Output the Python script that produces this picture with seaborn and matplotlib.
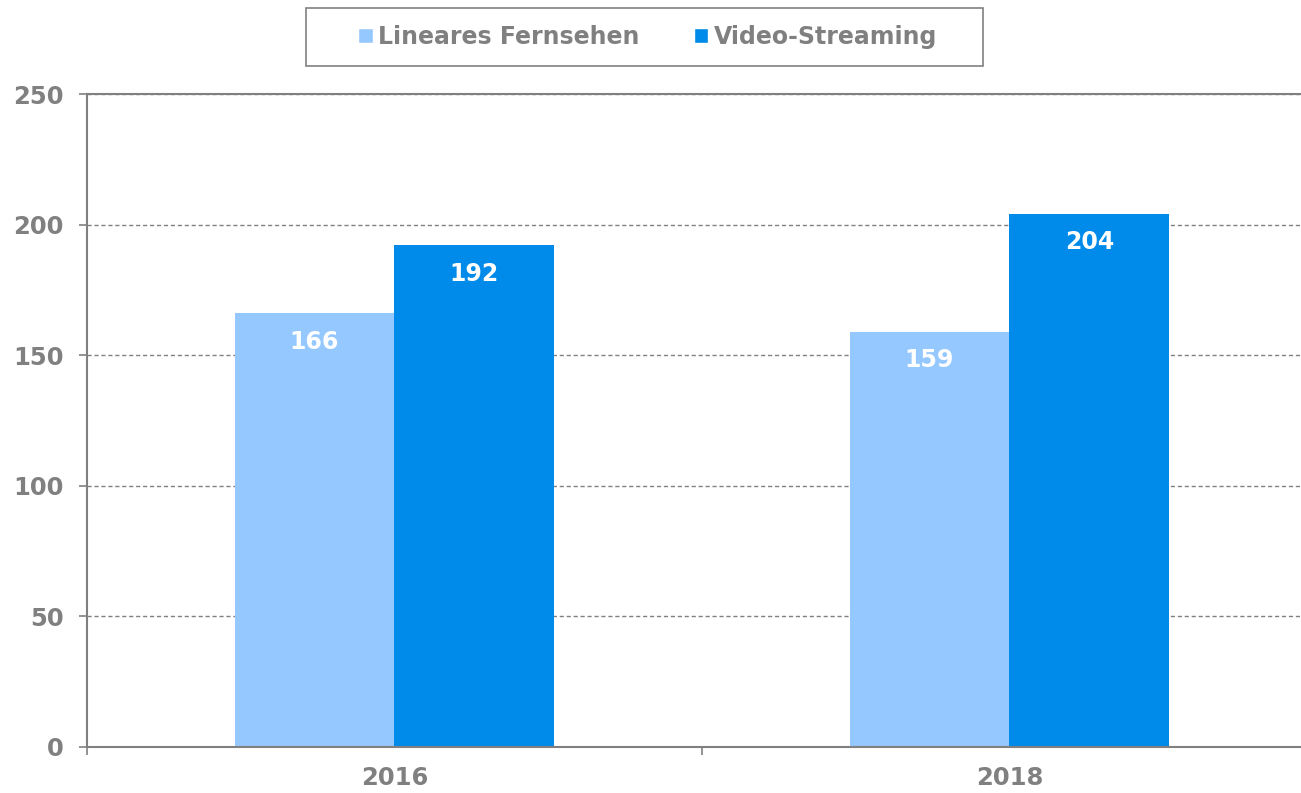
import pandas as pd
import matplotlib.pyplot as plt
import seaborn as sns
from matplotlib.patches import Patch, Rectangle
from matplotlib.ticker import FixedLocator

years = ['2016', '2018']
series = ['Lineares Fernsehen', 'Video-Streaming']
linear_tv = [166, 159]
streaming = [192, 204]
colors = ['#95C8FF', '#008AE9']
grey = '#808080'

df = pd.DataFrame({
    'Jahr': years * 2,
    'Serie': [series[0]] * 2 + [series[1]] * 2,
    'Wert': linear_tv + streaming,
})

sns.set_style('white')
plt.rcParams['font.family'] = ['DejaVu Sans']

W, H = 1301, 793
fig = plt.figure(figsize=(W / 100, H / 100), dpi=100)
ax = fig.add_axes([87 / W, 1 - 747 / H, 1 - 87 / W, (747 - 94) / H])

sns.barplot(data=df, x='Jahr', y='Wert', hue='Serie', palette=colors,
            width=0.52, gap=0, saturation=1, linewidth=0, ax=ax,
            legend=False)

for c in ax.containers:
    ax.bar_label(c, padding=-29, color='white', fontsize=17,
                 fontweight='bold')

ax.set_ylim(0, 250)
ax.set_xlim(-0.5, 1.474)
ax.set_yticks([0, 50, 100, 150, 200, 250])
ax.yaxis.grid(True, linestyle=(0, (3, 2)), color=grey, linewidth=1)
ax.set_axisbelow(True)
ax.set_xlabel('')
ax.set_ylabel('')

for s in ['left', 'bottom', 'top']:
    ax.spines[s].set_color(grey)
    ax.spines[s].set_linewidth(1.5)
ax.spines['right'].set_visible(False)

ax.tick_params(axis='y', which='major', length=6, width=1.2, color=grey,
               labelcolor=grey, labelsize=17.5, pad=11, left=True)
ax.tick_params(axis='x', which='major', length=0, labelcolor=grey,
               labelsize=17.5, pad=14)
ax.xaxis.set_minor_locator(FixedLocator([-0.5, 0.5, 1.5]))
ax.tick_params(axis='x', which='minor', length=6, width=1.2, color=grey,
               bottom=True)
for lab in ax.get_xticklabels() + ax.get_yticklabels():
    lab.set_fontweight('bold')

# legend (frame drawn separately, it is wider than tall)
handles = [Patch(facecolor=colors[i], label=series[i]) for i in range(2)]
leg = fig.legend(handles=handles, loc='center', ncol=2,
                 bbox_to_anchor=(648 / W, 1 - 37 / H),
                 frameon=False, handlelength=0.6, handleheight=0.6,
                 handletextpad=0.25, columnspacing=2.3, borderaxespad=0,
                 prop={'size': 17, 'weight': 'bold'})
for t in leg.get_texts():
    t.set_color(grey)
fig.patches.append(Rectangle((306 / W, 1 - 66 / H), (983 - 306) / W, 58 / H,
                             transform=fig.transFigure, fill=False,
                             edgecolor=grey, linewidth=1.2))

fig.savefig('out.png', dpi=100)
